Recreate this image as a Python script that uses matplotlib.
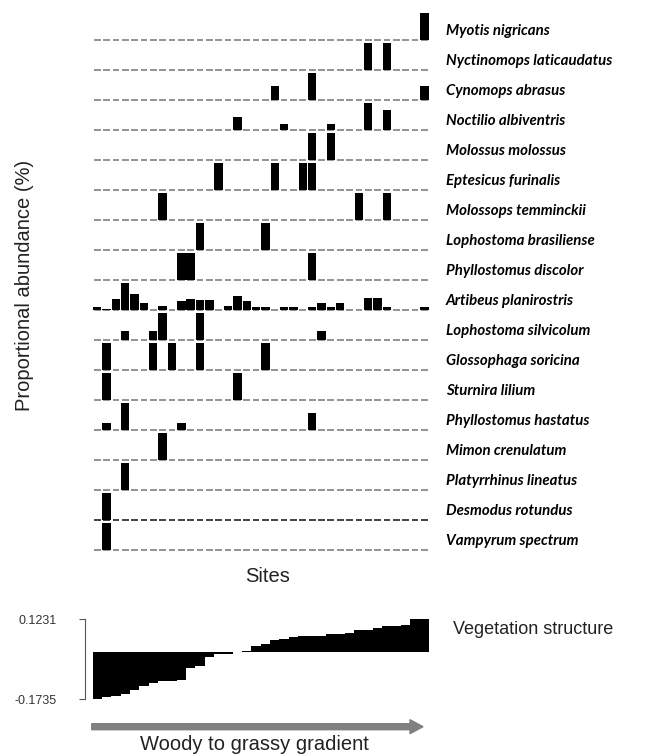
import numpy as np
import matplotlib
matplotlib.use("Agg")
import matplotlib.pyplot as plt
from matplotlib.patches import FancyArrow
import matplotlib.transforms as mtrans

# species rows, top to bottom
species = ["Myotis nigricans", "Nyctinomops laticaudatus", "Cynomops abrasus",
           "Noctilio albiventris", "Molossus molossus", "Eptesicus furinalis",
           "Molossops temminckii", "Lophostoma brasiliense", "Phyllostomus discolor",
           "Artibeus planirostris", "Lophostoma silvicolum", "Glossophaga soricina",
           "Sturnira lilium", "Phyllostomus hastatus", "Mimon crenulatum",
           "Platyrrhinus lineatus", "Desmodus rotundus", "Vampyrum spectrum"]

n_sites = 36

# proportional abundance per site (site index: % of row maximum)
hits = [
    {35: 100},
    {29: 100, 31: 100},
    {19: 50, 23: 100, 35: 50},
    {15: 47, 20: 23, 25: 23, 29: 100, 31: 73},
    {23: 100, 25: 100},
    {13: 100, 19: 100, 22: 100, 23: 100},
    {7: 100, 28: 100, 31: 100},
    {11: 100, 18: 100},
    {9: 100, 10: 100, 23: 100},
    {0: 12, 1: 4, 2: 40, 3: 100, 4: 58, 5: 27, 7: 14, 9: 35, 10: 40, 11: 37,
     12: 38, 14: 14, 15: 50, 16: 35, 17: 12, 18: 12, 20: 12, 21: 12, 23: 12,
     24: 27, 25: 12, 26: 27, 29: 44, 30: 44, 31: 12, 35: 12},
    {3: 33, 6: 33, 7: 100, 11: 100, 24: 33},
    {1: 100, 6: 100, 8: 100, 11: 100, 18: 100},
    {1: 100, 15: 100},
    {1: 25, 3: 100, 9: 25, 23: 62},
    {7: 100},
    {3: 100},
    {1: 100},
    {1: 100},
]

# vegetation structure score per site (sorted woody -> grassy)
veg = [-0.1735, -0.165, -0.160, -0.154, -0.139, -0.124, -0.114, -0.106, -0.105,
       -0.104, -0.059, -0.050, -0.016, -0.006, -0.005, 0.0, 0.004, 0.023, 0.032,
       0.047, 0.048, 0.058, 0.059, 0.060, 0.061, 0.066, 0.067, 0.071, 0.083,
       0.084, 0.090, 0.097, 0.098, 0.101, 0.1225, 0.1231]
veg_ticks = [-0.1735, 0.1231]

W, H = 659, 755
fig = plt.figure(figsize=(W / 100, H / 100), dpi=100)

sites = np.arange(n_sites)

# top panel: one row per species
ax = fig.add_axes([92.5 / W, 1 - 565 / H, 336.5 / W, 555 / H])
ax.set_xlim(-0.5, n_sites - 0.5)
ax.set_ylim(-len(species) + 0.5, 1.0)
ax.axis("off")
trans = mtrans.blended_transform_factory(ax.transAxes, ax.transData)

for k, (name, h) in enumerate(zip(species, hits)):
    base = -k
    dcol = "#333333" if name == "Desmodus rotundus" else "#8a8a8a"
    ax.hlines([base] * n_sites, sites - 0.36, sites + 0.36, color=dcol, lw=1.3, zorder=1)
    xs = list(h.keys())
    hs = [v / 100 * 0.9 for v in h.values()]
    ax.bar(xs, hs, bottom=base, width=0.9, color="black", zorder=2)
    ax.text(1.0505, base + 0.3, name, transform=trans, fontsize=10.8,
            fontweight="bold", style="italic", family=["Lato", "DejaVu Sans"],
            va="center", ha="left")

# bottom panel: vegetation gradient
ax2 = fig.add_axes([92.5 / W, 1 - 699.3 / H, 336.5 / W, 80.3 / H])
ax2.bar(sites, veg, width=1.0, color="black")
ax2.set_xlim(-0.5, n_sites - 0.5)
ax2.set_ylim(veg_ticks[0], veg_ticks[1])
for s in ["top", "right", "bottom"]:
    ax2.spines[s].set_visible(False)
ax2.spines["left"].set_position(("outward", 5.5))
ax2.spines["left"].set_color("#555555")
ax2.set_xticks([])
ax2.set_yticks(veg_ticks)
ax2.set_yticklabels(["%.4f" % v for v in veg_ticks], family="Liberation Sans",
                    fontsize=9, color="#333333")
ax2.tick_params(axis="y", length=4.5, color="#555555", pad=16)

# texts
fig.text(25 / W, 1 - 285.5 / H, "Proportional abundance (%)", rotation=90,
         ha="center", va="center", fontsize=14.5, family="Liberation Sans", color="#222222")
fig.text(268 / W, 1 - 577 / H, "Sites", ha="center", va="center",
         fontsize=14.5, family="Liberation Sans", color="#222222")
fig.text(453 / W, 1 - 630 / H, "Vegetation structure", ha="left", va="center",
         fontsize=13, family="Liberation Sans", color="#222222")
fig.text(254 / W, 1 - 744 / H, "Woody to grassy gradient", ha="center", va="center",
         fontsize=14.5, family="Liberation Sans", color="#222222")

# gradient arrow
arr = FancyArrow(0.917, (H - 726.7) / 100, 3.313, 0, width=0.06, head_width=0.14,
                 head_length=0.13, length_includes_head=True, color="#808080",
                 transform=fig.dpi_scale_trans)
fig.patches.append(arr)

fig.savefig("out.png", dpi=100)
